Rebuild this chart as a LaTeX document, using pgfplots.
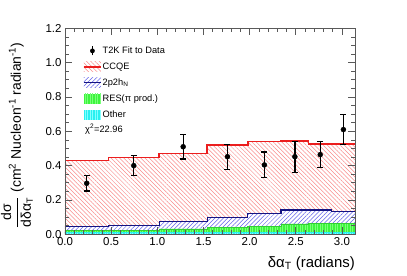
\documentclass[border=0pt]{standalone}
\usepackage{fontspec}
\setmainfont{Liberation Sans}
\usepackage{pgfplots}
\usepackage{pgfplotstable}
\pgfplotsset{compat=1.18}
\usetikzlibrary{patterns.meta}

\definecolor{ccqeline}{RGB}{235,30,30}
\definecolor{ccqehatch}{RGB}{250,140,140}
\definecolor{tphline}{RGB}{20,20,130}
\definecolor{tphhatch}{RGB}{100,100,235}
\definecolor{resfill}{RGB}{60,245,60}
\definecolor{resgrid}{RGB}{120,255,120}
\definecolor{othfill}{RGB}{40,240,240}
\definecolor{othgrid}{RGB}{130,255,255}

\pgfplotstableread{
x ccqe tph res oth
0 0.429 0.044 0.021 0.010
0.47 0.448 0.050 0.025 0.010
1.02 0.471 0.074 0.031 0.010
1.54 0.520 0.098 0.038 0.011
1.98 0.541 0.122 0.048 0.012
2.34 0.545 0.141 0.060 0.013
2.64 0.526 0.141 0.062 0.013
2.89 0.526 0.135 0.062 0.013
3.1416 0.526 0.135 0.062 0.013
}\mc

\pgfplotstableread{
x y e
0.235 0.297 0.045
0.745 0.400 0.058
1.28 0.510 0.071
1.76 0.452 0.073
2.16 0.404 0.075
2.49 0.452 0.090
2.765 0.464 0.075
3.016 0.610 0.086
}\data

\begin{document}
\begin{tikzpicture}
\useasboundingbox (-65bp,-41.7bp) rectangle (342bp,234.3bp);
\begin{axis}[
  at={(0,0)}, anchor=south west,
  scale only axis, width=290bp, height=206bp,
  xmin=0, xmax=3.1416, ymin=0, ymax=1.2,
  xtick={0,0.5,1,1.5,2,2.5,3},
  ytick={0,0.2,0.4,0.6,0.8,1.0,1.2},
  minor x tick num=4, minor y tick num=3,
  tick align=inside, major tick length=7bp, minor tick length=4bp,
  axis on top,
  axis line style={black!65, line width=0.8bp},
  tick style={black!65, line width=0.6bp},
  /pgf/number format/assume math mode=true,
  xticklabel style={/pgf/number format/.cd, fixed, fixed zerofill, precision=1},
  yticklabel style={/pgf/number format/.cd, fixed, fixed zerofill, precision=1},
  tick label style={font=\fontsize{11.5}{13}\selectfont},
  scaled y ticks=false,
  xlabel={δα\textsubscript{T} (radians)},
  xlabel style={at={(rel axis cs:1,0)}, anchor=base east, yshift=-33bp, inner sep=0pt, font=\fontsize{15}{17}\selectfont},
  ylabel={$\displaystyle\frac{\mbox{dσ}}{\mbox{dδα}_{\mbox{\fontsize{9}{10}\selectfont T}}}$ (cm\textsuperscript{2} Nucleon\textsuperscript{-1} radian\textsuperscript{-1})},
  ylabel style={at={(rel axis cs:-0.1655,0.48)}, anchor=center, inner sep=0pt, font=\fontsize{14}{16}\selectfont},
  legend style={at={(rel axis cs:0.062,0.918)}, anchor=north west, draw=none, fill=none, inner sep=0pt,
    font=\fontsize{9.3}{11}\selectfont, row sep=5bp,
    nodes={inner sep=1bp, text height=7bp, text depth=2bp},
    /tikz/every even column/.append style={column sep=0pt}},
  legend cell align=left,
]
% stacked fills
\addplot[forget plot, const plot, draw=none, fill=white,
  postaction={pattern={Lines[angle=-45,distance=3bp,line width=0.5bp]}, pattern color=ccqehatch}]
  table[x=x,y=ccqe]{\mc} \closedcycle;
\addplot[forget plot, const plot, draw=none, fill=white,
  postaction={pattern={Lines[angle=45,distance=3bp,line width=0.5bp]}, pattern color=tphhatch}]
  table[x=x,y=tph]{\mc} \closedcycle;
\addplot[forget plot, const plot, draw=none, fill=resfill,
  postaction={pattern={Lines[angle=90,distance=2.5bp,line width=0.6bp]}, pattern color=resgrid}]
  table[x=x,y=res]{\mc} \closedcycle;
\addplot[forget plot, const plot, draw=none, fill=othfill,
  postaction={pattern={Lines[angle=90,distance=2.5bp,line width=0.6bp]}, pattern color=othgrid}]
  table[x=x,y=oth]{\mc} \closedcycle;
% outlines
\addplot[forget plot, const plot, ccqeline, line width=1.6bp] table[x=x,y=ccqe]{\mc};
\addplot[forget plot, const plot, tphline, line width=1.2bp] table[x=x,y=tph]{\mc};
\addplot[forget plot, const plot, resfill!85!black, line width=0.8bp] table[x=x,y=res]{\mc};
\addplot[forget plot, const plot, othfill, line width=0.8bp] table[x=x,y=oth]{\mc};
% data
\addplot[forget plot, only marks, mark=*, mark size=2.5bp, black,
  error bars/.cd, y dir=both, y explicit,
  error bar style={line width=1.3bp, black},
  error mark options={rotate=90, mark size=3bp, line width=1.3bp, black}]
  table[x=x,y=y,y error=e]{\data};
% legend
\addlegendimage{draw=none, legend image code/.code={
  \path[draw=none] (0bp,-5bp) rectangle (17bp,5bp);
  \draw[black, line width=1.2bp] (8.5bp,-4.5bp) -- (8.5bp,4.5bp);
  \fill[black, draw=none] (8.5bp,0bp) circle (2.4bp);}}
\addlegendentry{T2K Fit to Data}
\addlegendimage{draw=none, legend image code/.code={
  \fill[white, draw=none] (0bp,-5bp) rectangle (17bp,5bp);
  \fill[draw=none, pattern={Lines[angle=-45,distance=3bp,line width=0.5bp]}, pattern color=ccqehatch] (0bp,-5bp) rectangle (17bp,5bp);
  \draw[ccqeline, line width=1.5bp] (0bp,0bp) -- (17bp,0bp);}}
\addlegendentry{CCQE}
\addlegendimage{draw=none, legend image code/.code={
  \fill[white, draw=none] (0bp,-5bp) rectangle (17bp,5bp);
  \fill[draw=none, pattern={Lines[angle=45,distance=3bp,line width=0.5bp]}, pattern color=tphhatch] (0bp,-5bp) rectangle (17bp,5bp);
  \draw[tphline, line width=1.2bp] (0bp,0bp) -- (17bp,0bp);}}
\addlegendentry{2p2h\textsubscript{N}}
\addlegendimage{draw=none, legend image code/.code={
  \fill[resfill, draw=none] (0bp,-5bp) rectangle (17bp,5bp);
  \fill[draw=none, pattern={Lines[angle=90,distance=2.5bp,line width=0.6bp]}, pattern color=resgrid] (0bp,-5bp) rectangle (17bp,5bp);}}
\addlegendentry{RES(π prod.)}
\addlegendimage{draw=none, legend image code/.code={
  \fill[othfill, draw=none] (0bp,-5bp) rectangle (17bp,5bp);
  \fill[draw=none, pattern={Lines[angle=90,distance=2.5bp,line width=0.6bp]}, pattern color=othgrid] (0bp,-5bp) rectangle (17bp,5bp);}}
\addlegendentry{Other}
\node[anchor=west, inner sep=0pt, font=\fontsize{9.3}{11}\selectfont] at (rel axis cs:0.069,0.509) {χ\textsuperscript{2}=22.96};
\node[anchor=base west, inner sep=0pt, font=\fontsize{11.5}{13}\selectfont] at (rel axis cs:-0.005,1) {×10\textsuperscript{-39}};
\end{axis}
\end{tikzpicture}
\end{document}
